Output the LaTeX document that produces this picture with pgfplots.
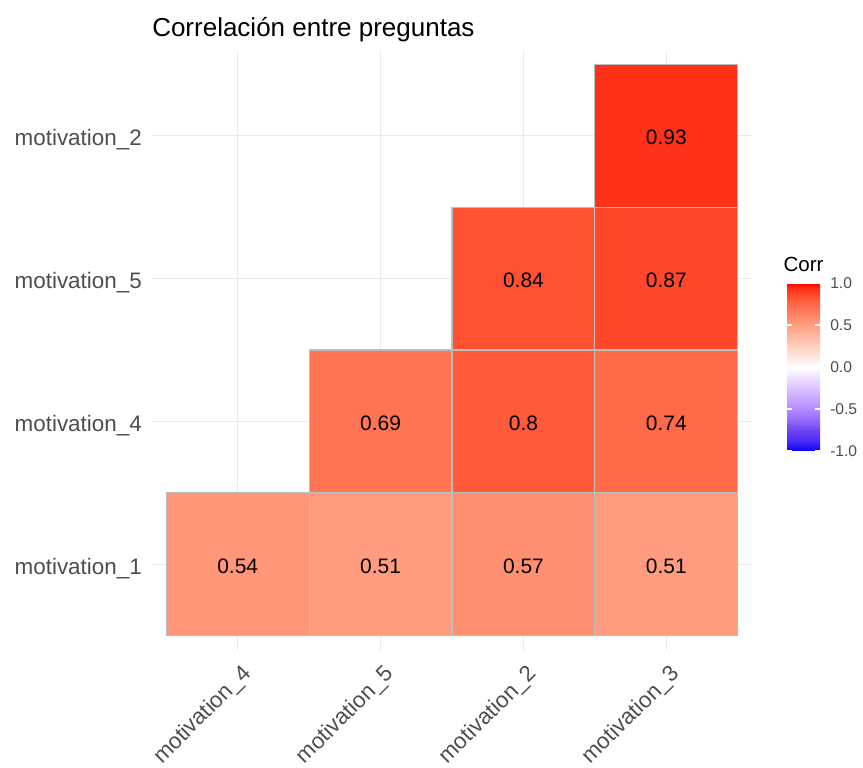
\documentclass[border=0pt]{standalone}
\usepackage{fontspec}
\setmainfont{Liberation Sans}
\usepackage{pgfplots}
\pgfplotsset{compat=1.18}

\definecolor{gray30}{RGB}{77,77,77}
\definecolor{gridgray}{RGB}{235,235,235}
\definecolor{tileborder}{RGB}{190,190,190}

% blue - white - red, interpolated in Lab (ggcorrplot default), step 0.0625
\pgfplotsset{
  colormap={corrmap}{
    rgb255=(0,0,255)     rgb255=(45,25,250)   rgb255=(75,45,246)
    rgb255=(95,57,244)   rgb255=(110,68,242)  rgb255=(130,88,246)
    rgb255=(148,106,250) rgb255=(164,123,253) rgb255=(179,139,255)
    rgb255=(190,153,255) rgb255=(200,167,255) rgb255=(210,182,255)
    rgb255=(220,196,255) rgb255=(230,211,255) rgb255=(238,225,255)
    rgb255=(247,240,255) rgb255=(255,255,255) rgb255=(255,243,238)
    rgb255=(255,231,222) rgb255=(255,219,206) rgb255=(255,207,191)
    rgb255=(255,195,175) rgb255=(255,183,160) rgb255=(255,171,145)
    rgb255=(255,158,129) rgb255=(255,145,115) rgb255=(255,132,100)
    rgb255=(255,118,85)  rgb255=(255,104,70)  rgb255=(255,88,55)
    rgb255=(255,70,40)   rgb255=(255,47,23)   rgb255=(255,0,0)
  }
}

% tiles: four corners each, corr value as meta
\pgfplotstableread{
x y v
0.5 0.5 0.54
1.5 0.5 0.54
1.5 1.5 0.54
0.5 1.5 0.54
1.5 0.5 0.51
2.5 0.5 0.51
2.5 1.5 0.51
1.5 1.5 0.51
2.5 0.5 0.57
3.5 0.5 0.57
3.5 1.5 0.57
2.5 1.5 0.57
3.5 0.5 0.51
4.5 0.5 0.51
4.5 1.5 0.51
3.5 1.5 0.51
1.5 1.5 0.69
2.5 1.5 0.69
2.5 2.5 0.69
1.5 2.5 0.69
2.5 1.5 0.80
3.5 1.5 0.80
3.5 2.5 0.80
2.5 2.5 0.80
3.5 1.5 0.74
4.5 1.5 0.74
4.5 2.5 0.74
3.5 2.5 0.74
2.5 2.5 0.84
3.5 2.5 0.84
3.5 3.5 0.84
2.5 3.5 0.84
3.5 2.5 0.87
4.5 2.5 0.87
4.5 3.5 0.87
3.5 3.5 0.87
3.5 3.5 0.93
4.5 3.5 0.93
4.5 4.5 0.93
3.5 4.5 0.93
}\tiles

% cell labels
\pgfplotstableread{
x y label
1 1 0.54
2 1 0.51
3 1 0.57
4 1 0.51
2 2 0.69
3 2 0.8
4 2 0.74
3 3 0.84
4 3 0.87
4 4 0.93
}\labels

\begin{document}
\begin{tikzpicture}
\path[use as bounding box] (0,0) rectangle (647.25pt,575.25pt);

\begin{axis}[
  at={(114pt,87.75pt)}, anchor=south west,
  scale only axis,
  width=450pt, height=450pt,
  xmin=0.4, xmax=4.6, ymin=0.4, ymax=4.6,
  xtick={1,2,3,4}, ytick={1,2,3,4},
  xticklabels={motivation\_4, motivation\_5, motivation\_2, motivation\_3},
  yticklabels={motivation\_1, motivation\_4, motivation\_5, motivation\_2},
  xmajorgrids, ymajorgrids,
  grid style={draw=gridgray, line width=1pt},
  axis line style={draw=none},
  major tick length=0pt,
  tick label style={text=gray30, font=\fontsize{16.8}{20}\selectfont},
  xticklabel style={inner sep=0pt, xshift=2pt, yshift=-9.75pt,
    rotate=45, anchor=north east},
  yticklabel style={inner sep=0pt, xshift=-7.5pt, yshift=-7.5pt, anchor=base east},
  title={Correlación entre preguntas},
  title style={at={(0,1)}, anchor=base west, inner sep=0pt, yshift=3.75pt,
    font=\fontsize{19.5}{23}\selectfont},
  colormap name=corrmap,
  point meta min=-1, point meta max=1,
  colorbar,
  colorbar shift/.style={},
  colorbar/width=24.75pt,
  colorbar style={
    at={(parent axis.south east)}, anchor=south west,
    xshift=26.25pt, yshift=149.25pt,
    width=24.75pt, height=126pt,
    ytick={-1,-0.5,0,0.5,1},
    ytick pos=both, yticklabel pos=right,
    tick align=inside, major tick length=4pt,
    ytick style={draw=white, line width=0.8pt},
    axis line style={draw=none},
    yticklabel style={text=gray30, font=\fontsize{11.7}{14}\selectfont,
      anchor=west, inner sep=0pt, xshift=7.5pt,
      /pgf/number format/assume math mode=true,
      /pgf/number format/fixed, /pgf/number format/fixed zerofill,
      /pgf/number format/precision=1},
    title={Corr},
    title style={font=\fontsize{15.4}{18}\selectfont, inner sep=0pt,
      anchor=base, yshift=2.25pt},
  },
]

\addplot[
  patch, patch type=rectangle,
  shader=faceted, faceted color=tileborder, line width=0.9pt,
  point meta=explicit,
] table[meta=v] {\tiles};

\addplot[
  only marks, mark=none,
  point meta=explicit symbolic,
  nodes near coords,
  nodes near coords align={center},
  every node near coord/.append style={text=black, anchor=center, yshift=-1.5pt,
    font=\fontsize{15.7}{18}\selectfont},
] table[meta=label] {\labels};

\end{axis}
\end{tikzpicture}
\end{document}
